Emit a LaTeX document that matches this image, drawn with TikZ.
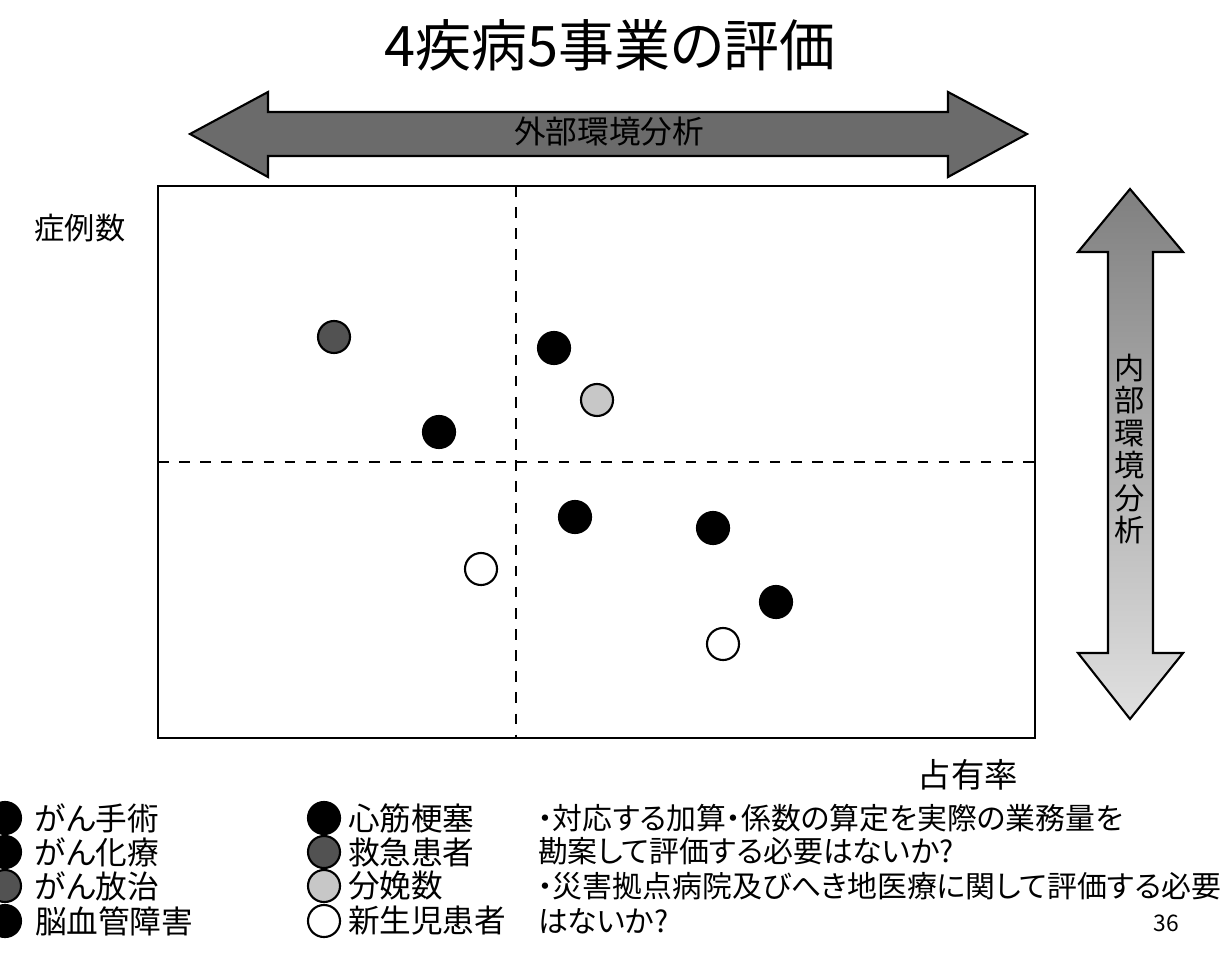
\documentclass[tikz,border=0pt]{standalone}
\usepackage{fontspec}
\setmainfont{Noto Sans CJK JP}[RawFeature=+palt]
\begin{document}
\begin{tikzpicture}[x=0.01cm, y=-0.01cm,
  every node/.style={inner sep=0pt, outer sep=0pt},
  dot/.style={circle, minimum size=0.32cm, draw=black, line width=0.6pt},
  blackdot/.style={dot, fill=black},
  darkdot/.style={dot, fill=black!68},
  lightdot/.style={dot, fill=black!22},
  whitedot/.style={dot, fill=white},
  legend/.style={anchor=west, font=\fontsize{9}{9}\selectfont},
  memo/.style={anchor=west, font=\fontsize{8.5}{8.5}\selectfont}]
\useasboundingbox (0,0) rectangle (1228,958);

% title
\node (title) at (610,45) {\fontsize{15.9}{15.9}\selectfont 4疾病5事業の評価};

% outer arrows
\draw[line width=0.6pt, fill=black!58] (190,134) -- (268,92) -- (268,112) -- (948,112) -- (948,92) -- (1027,134)
  -- (948,177) -- (948,156) -- (268,156) -- (268,177) -- cycle;
\node (gaibu) at (609,132) {\fontsize{9}{9}\selectfont 外部環境分析};

\draw[line width=0.6pt, top color=black!50, bottom color=black!12] (1130,189) -- (1183,252) -- (1153,252) -- (1153,653)
  -- (1183,653) -- (1130,719) -- (1078,653) -- (1108,653) -- (1108,252) -- (1078,252) -- cycle;
\node[align=center, font=\fontsize{8.6}{9.2}\selectfont] (naibu) at (1130,449) {内\\部\\環\\境\\分\\析};

% frame
\draw[line width=0.8pt] (158,186) rectangle (1035,738);
\draw[dashed, line width=0.6pt] (516,186) -- (516,738);
\draw[dashed, line width=0.6pt] (158,462) -- (1035,462);

\node (yaxis) at (80,228) {\fontsize{8.6}{8.6}\selectfont 症例数};
\node (xaxis) at (968,775) {\fontsize{9.5}{9.5}\selectfont 占有率};

% points
\node[darkdot] (dot1) at (334,337) {};
\node[blackdot] (dot2) at (554,348) {};
\node[lightdot] (dot3) at (597,400) {};
\node[blackdot] (dot4) at (439,432) {};
\node[blackdot] (dot5) at (575,517) {};
\node[blackdot] (dot6) at (713,528) {};
\node[whitedot] (dot7) at (481,569) {};
\node[blackdot] (dot8) at (776,602) {};
\node[whitedot] (dot9) at (723,644) {};

% legend
\node[blackdot] (lg1) at (5,818) {};
\node[blackdot] (lg2) at (5,852) {};
\node[darkdot] (lg3) at (5,886) {};
\node[blackdot] (lg4) at (5,921) {};
\node[legend] (lt1) at (35,818) {がん手術};
\node[legend] (lt2) at (35,852) {がん化療};
\node[legend] (lt3) at (35,886) {がん放治};
\node[legend] (lt4) at (35,921) {脳血管障害};

\node[blackdot] (lg5) at (324,818) {};
\node[darkdot] (lg6) at (324,852) {};
\node[lightdot] (lg7) at (324,886) {};
\node[whitedot] (lg8) at (324,921) {};
\node[legend] (lt5) at (348,818) {心筋梗塞};
\node[legend] (lt6) at (348,852) {救急患者};
\node[legend] (lt7) at (348,886) {分娩数};
\node[legend] (lt8) at (348,921) {新生児患者};

% notes
\node[memo] (m1) at (538,818) {・対応する加算・係数の算定を実際の業務量を};
\node[memo] (m2) at (538,851) {勘案して評価する必要はないか?};
\node[memo] (m3) at (538,886) {・災害拠点病院及びへき地医療に関して評価する必要};
\node[memo] (m4) at (538,921) {はないか?};
\node (page) at (1166,923) {\fontsize{6.5}{6.5}\selectfont 36};
\end{tikzpicture}
\end{document}
